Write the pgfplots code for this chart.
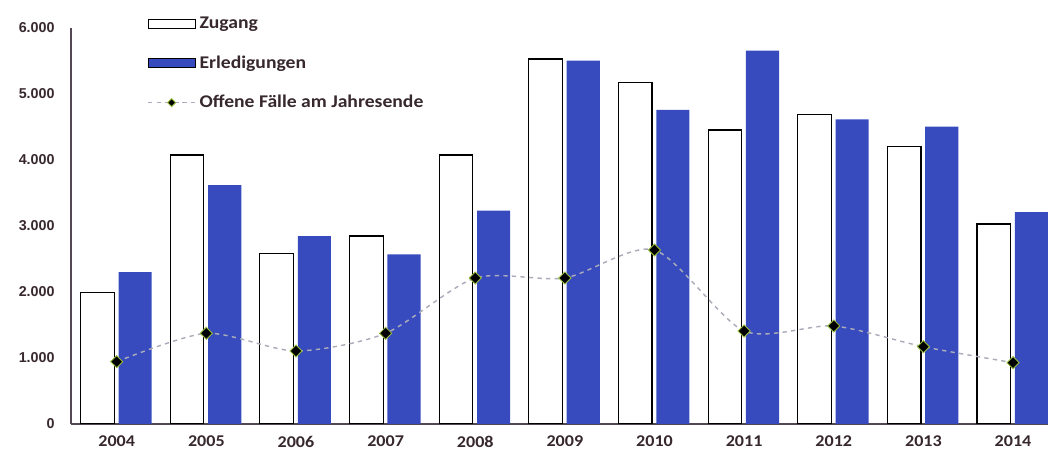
\documentclass[border=0pt]{standalone}
\usepackage{pgfplots}
\pgfplotsset{compat=1.18}
\usepackage{fontspec}
\setmainfont{Carlito}
\newfontfamily\legfont{Carlito}[FakeStretch=1.1]
\newfontfamily\arialfont{Liberation Sans}
\definecolor{barblue}{RGB}{55,75,190}
\definecolor{axisgray}{RGB}{85,72,85}
\definecolor{txt}{RGB}{55,40,45}
\definecolor{linegray}{RGB}{170,172,185}
\definecolor{mkedge}{RGB}{150,190,60}
\pgfplotsset{
  rectlegend/.style={legend image code/.code={\draw[##1] (0pt,-3.1pt) rectangle (33pt,3.1pt);}},
  linelegend/.style={legend image code/.code={\draw[mark repeat=2,mark phase=2,mark size=2pt,##1] plot coordinates {(0pt,0pt) (16.5pt,0pt) (33pt,0pt)};}},
}
\begin{document}
\begin{tikzpicture}
\useasboundingbox (-49.7pt,-21pt) rectangle (683.9pt,296.8pt);
\begin{axis}[
  at={(0,0)}, anchor=south west, scale only axis,
  width=683.9pt, height=277.2pt,
  xmin=-0.51, xmax=10.39, ymin=0, ymax=6000,
  axis lines*=left,
  axis line style={axisgray, line width=0.8pt},
  xtick={0,...,10},
  xticklabels={2004,2005,2006,2007,2008,2009,2010,2011,2012,2013,2014},
  ytick={0,1000,2000,3000,4000,5000,6000},
  major tick length=0pt,
  /pgf/number format/1000 sep={.},
  /pgf/number format/assume math mode=true,
  yticklabel style={font=\arialfont\bfseries\fontsize{10}{12}\selectfont, text=txt, xshift=-8pt},
  xticklabel style={font=\legfont\bfseries\fontsize{11.5}{13}\selectfont, text=txt, yshift=-5pt},
  legend style={at={(0.0735,1.045)}, anchor=north west, draw=none, fill=none,
    font=\legfont\bfseries\fontsize{12.5}{14}\selectfont, text=txt, row sep=12.5pt,
    nodes={inner sep=2.5pt}},
  legend cell align=left,
]
\addplot[ybar, bar width=0.375, bar shift=-0.215, draw=black, fill=white, line width=0.8pt, rectlegend]
  coordinates {(0,1990) (1,4076) (2,2586) (3,2848) (4,4076) (5,5530) (6,5177) (7,4455) (8,4692) (9,4202) (10,3030)};
\addlegendentry{Zugang}
\addplot[ybar, bar width=0.37, bar shift=0.205, draw=none, fill=barblue, rectlegend]
  coordinates {(0,2300) (1,3621) (2,2848) (3,2571) (4,3232) (5,5505) (6,4758) (7,5656) (8,4617) (9,4505) (10,3212)};
\addlegendentry{Erledigungen}
\addplot[linegray, dashed, line width=1pt, smooth, tension=0.45,
  mark=square*, mark size=3pt,
  mark options={solid, fill=black, draw=mkedge, line width=0.6pt, rotate=45}, linelegend]
  coordinates {(0,944) (1,1374) (2,1106) (3,1374) (4,2212) (5,2212) (6,2636) (7,1409) (8,1485) (9,1171) (10,929)};
\addlegendentry{Offene Fälle am Jahresende}
\end{axis}
\end{tikzpicture}
\end{document}
